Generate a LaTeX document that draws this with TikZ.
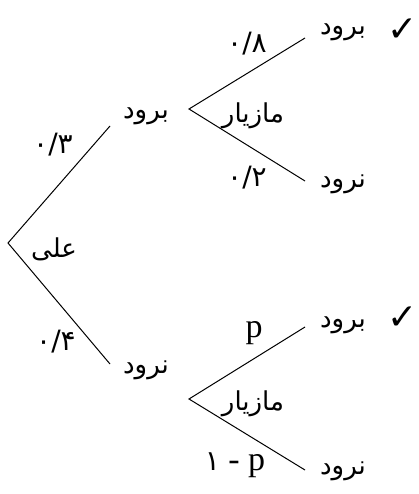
\documentclass[tikz,border=0pt]{standalone}
\usepackage{fontspec}
\setmainfont{Liberation Serif}
\newfontfamily\arabicfont[Script=Arabic]{DejaVu Sans}
\newfontfamily\symbolfont{DejaVu Sans}
\TeXXeTstate=1
\usetikzlibrary{positioning}

\begin{document}
\begin{tikzpicture}[
    x=1pt, y=-1pt,
    word/.style={font=\arabicfont\fontsize{26}{28}\selectfont, inner sep=0pt},
    prob/.style={font=\arabicfont\fontsize{28}{30}\selectfont, inner sep=0pt},
    latin/.style={font=\fontsize{34}{36}\selectfont, inner sep=0pt},
    tick/.style={font=\symbolfont\fontsize{36}{38}\selectfont, inner sep=0pt},
    branch/.style={line width=1pt, black}
]
\useasboundingbox (0,0) rectangle (418,494);
% tree points
\coordinate (ali) at (8,243);
\coordinate (goEnd) at (110,126);
\coordinate (stayEnd) at (110,364);
\coordinate (mzTop) at (189,109);
\coordinate (mzBot) at (189,399);
\coordinate (ttEnd) at (305,38);
\coordinate (tbEnd) at (305,181);
\coordinate (btEnd) at (305,327);
\coordinate (bbEnd) at (305,470);

% outcomes
\node (go) [word] at (146,116) {\beginR برود\endR};
\node (stay) [word] at (146,370) {\beginR نرود\endR};
\node (goGo) [word] at (343,32) {\beginR برود\endR};
\node (goStay) [word] at (343,184) {\beginR نرود\endR};
\node (stayGo) [word] at (343,325) {\beginR برود\endR};
\node (stayStay) [word] at (343,471) {\beginR نرود\endR};
\node (tickA) [tick] at (403,30) {✓};
\node (tickB) [tick] at (403,318) {✓};

% who decides
\node (aliName) [word] at (54,249) {\beginR علی\endR};
\node (mzNameA) [word] at (253,116) {\beginR مازیار\endR};
\node (mzNameB) [word] at (253,404) {\beginR مازیار\endR};

% probabilities
\node (pA) [prob] at (53,145) {۰/۳};
\node (pB) [prob] at (56,342) {۰/۴};
\node (pC) [prob] at (247,44) {۰/۸};
\node (pD) [prob] at (247,178) {۰/۲};
\node (pE) [latin] at (254,333) {p};
\node (pF) [latin] at (235,465) {{\arabicfont\fontsize{28}{30}\selectfont ۱} - p};

\draw [branch] (goEnd) -- (ali) -- (stayEnd);
\draw [branch] (ttEnd) -- (mzTop) -- (tbEnd);
\draw [branch] (btEnd) -- (mzBot) -- (bbEnd);
\end{tikzpicture}
\end{document}
